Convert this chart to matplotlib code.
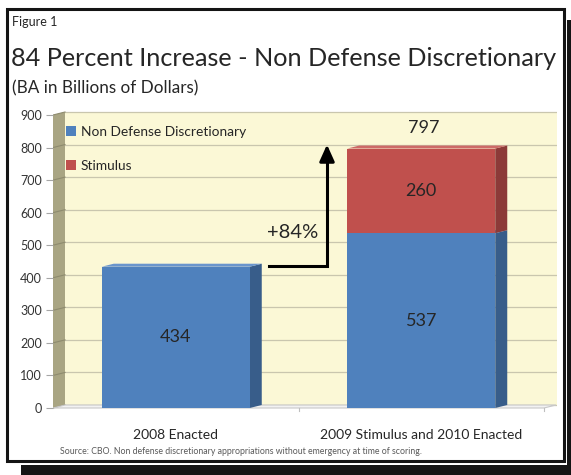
import matplotlib
matplotlib.use("Agg")
import matplotlib.pyplot as plt
from matplotlib.patches import Rectangle, Polygon
from matplotlib.lines import Line2D

plt.rcParams['font.family'] = ['Lato', 'DejaVu Sans']

# ---- data ----
categories = ["2008 Enacted", "2009 Stimulus and 2010 Enacted"]
non_defense = [434, 537]
stimulus = [0, 260]
series_names = ["Non Defense Discretionary", "Stimulus"]
yticks = [0, 100, 200, 300, 400, 500, 600, 700, 800, 900]
increase_label = "+84%"

W, H = 571, 475
fig = plt.figure(figsize=(W / 100, H / 100), dpi=100)
fig.patch.set_facecolor("white")

def fx(px):
    return px / W

def fy(py):
    return 1 - py / H

# shadow and frame
fig.patches.append(Rectangle((fx(21), fy(475)), fx(571) - fx(21), fy(20) - fy(475),
                             transform=fig.transFigure, facecolor="#141414", edgecolor="none", zorder=0))
fig.patches.append(Rectangle((fx(4), fy(465)), fx(567) - fx(4), fy(6) - fy(465),
                             transform=fig.transFigure, facecolor="white", edgecolor="none", zorder=0.5))
fig.patches.append(Rectangle((fx(7), fy(461)), fx(564) - fx(7), fy(9) - fy(461),
                             transform=fig.transFigure, facecolor="white", edgecolor="#141414",
                             linewidth=2.2, zorder=1))

# axes: y 0 -> px 408, 900 -> px 115 (front plane)
ppu = (408 - 115) / 900.0
ylo, yhi = -10, 912
ax_bottom_px = 408 + (0 - ylo) * ppu
ax_top_px = 408 - yhi * ppu
cat_px = 245.5
xlo = -0.5
xhi = 1.5 + 13 / cat_px
ax_left_px = 53
ax_right_px = ax_left_px + (xhi - xlo) * cat_px
ax = fig.add_axes([fx(ax_left_px), fy(ax_bottom_px), fx(ax_right_px) - fx(ax_left_px),
                   fy(ax_top_px) - fy(ax_bottom_px)])
ax.set_zorder(3)
ax.set_xlim(xlo, xhi)
ax.set_ylim(ylo, yhi)
ax.patch.set_visible(False)
for s in ax.spines.values():
    s.set_visible(False)

dx = 12 / cat_px
dy = 3 / ppu

# back wall
ax.add_patch(Rectangle((xlo + dx, dy), xhi - (xlo + dx), 900, facecolor="#FBF8D6",
                       edgecolor="none", zorder=1))
# left wall
ax.add_patch(Polygon([(xlo, 0), (xlo + dx, dy), (xlo + dx, 900 + dy), (xlo, 900)],
                     closed=True, facecolor="#A9A583", edgecolor="none", zorder=1.2))
# floor
ax.add_patch(Polygon([(xlo, 0), (1.5, 0), (1.5 + dx, dy), (xlo + dx, dy)],
                     closed=True, facecolor="#F2F2F2", edgecolor="#C8C8C8", linewidth=0.8, zorder=1.3))
# gridlines
for v in yticks:
    ax.add_line(Line2D([xlo + dx, xhi], [v + dy, v + dy], color="#C9C6AE", linewidth=0.9, zorder=1.1))
    ax.add_line(Line2D([xlo, xlo + dx], [v, v + dy], color="#8E8B6E", linewidth=0.8, zorder=1.25))

# category ticks on floor front edge
for t in [0.5, 1.5]:
    ax.add_line(Line2D([t, t], [0, -9], color="#BFBFBF", linewidth=0.8, zorder=1.3, clip_on=False))

bar_w = 148 / cat_px
colors_front = ["#4F81BD", "#C0504D"]
colors_side = ["#385D8A", "#8C3A38"]
colors_top = ["#6A95CC", "#CD6A67"]
xs = list(range(len(categories)))

def box3d(x, bottom, height, i):
    left = x - bar_w / 2
    right = x + bar_w / 2
    top = bottom + height
    ax.add_patch(Polygon([(right, bottom), (right + dx, bottom + dy), (right + dx, top + dy), (right, top)],
                         closed=True, facecolor=colors_side[i], edgecolor="none", zorder=3))
    ax.add_patch(Polygon([(left, top), (left + dx, top + dy), (right + dx, top + dy), (right, top)],
                         closed=True, facecolor=colors_top[i], edgecolor="none", zorder=3))

b1 = ax.bar(xs, non_defense, width=bar_w, color=colors_front[0], zorder=3.5,
            label=series_names[0])
b2 = ax.bar(xs, stimulus, bottom=non_defense, width=bar_w, color=colors_front[1], zorder=3.5,
            label=series_names[1])
for i, x in enumerate(xs):
    box3d(x, 0, non_defense[i], 0)
    if stimulus[i] > 0:
        box3d(x, non_defense[i], stimulus[i], 1)

# value labels
lab_kw = dict(ha="center", va="center", fontsize=13, color="#262626", zorder=5)
for i, x in enumerate(xs):
    ax.text(x, non_defense[i] / 2, f"{non_defense[i]}", **lab_kw)
    if stimulus[i] > 0:
        ax.text(x, non_defense[i] + stimulus[i] / 2, f"{stimulus[i]}", **lab_kw)
total = non_defense[1] + stimulus[1]
ax.text(1 + 0.01, total + 63, f"{total}", **lab_kw)

# arrow
ax_x1 = (269 - 53) / cat_px - 0.5
ax_x2 = (327 - 53) / cat_px - 0.5
y_arrow = non_defense[0] + 2
ax.add_line(Line2D([ax_x1, ax_x2, ax_x2], [y_arrow, y_arrow, total - 30], color="black",
                   linewidth=2.2, zorder=5, solid_joinstyle="miter"))
ax.annotate("", xy=(ax_x2, total + 12), xytext=(ax_x2, total - 40),
            arrowprops=dict(arrowstyle="-|>,head_length=1.0,head_width=0.45", color="black",
                            linewidth=2.2, shrinkA=0, shrinkB=0), zorder=5)
ax.text((293 - 53) / cat_px - 0.5, 540, increase_label, ha="center", va="center",
        fontsize=14.5, color="#262626", zorder=5)

# axes ticks
ax.set_yticks(yticks)
ax.set_yticklabels([str(v) for v in yticks])
ax.tick_params(axis="y", length=5, width=0.8, color="#A6A6A6", labelsize=9, labelcolor="#333333", pad=3)
ax.set_xticks(xs)
ax.set_xticklabels(categories)
ax.tick_params(axis="x", length=0, labelsize=10, labelcolor="#262626", pad=13)

# legend
leg = ax.legend(handles=[b1, b2], loc="upper left", bbox_to_anchor=(0.01, 0.978),
                frameon=False, fontsize=9.9, handlelength=0.7, handleheight=0.7,
                handletextpad=0.35, labelspacing=1.6, borderaxespad=0.2)
for t in leg.get_texts():
    t.set_color("#262626")
leg.set_zorder(6)

# titles
fig.text(fx(12), fy(22), "Figure 1", fontsize=9, color="#262626", ha="left", va="center", zorder=4)
fig.text(fx(11), fy(58), "84 Percent Increase - Non Defense Discretionary", fontsize=18.2,
         color="#262626", ha="left", va="center", zorder=4)
fig.text(fx(12), fy(88), "(BA in Billions of Dollars)", fontsize=12.3, color="#262626",
         ha="left", va="center", zorder=4)
fig.text(fx(60), fy(452),
         "Source: CBO. Non defense discretionary appropriations without emergency at time of scoring.",
         fontsize=6.3, color="#595959", ha="left", va="center", zorder=4)

fig.savefig("out.png", dpi=100)
